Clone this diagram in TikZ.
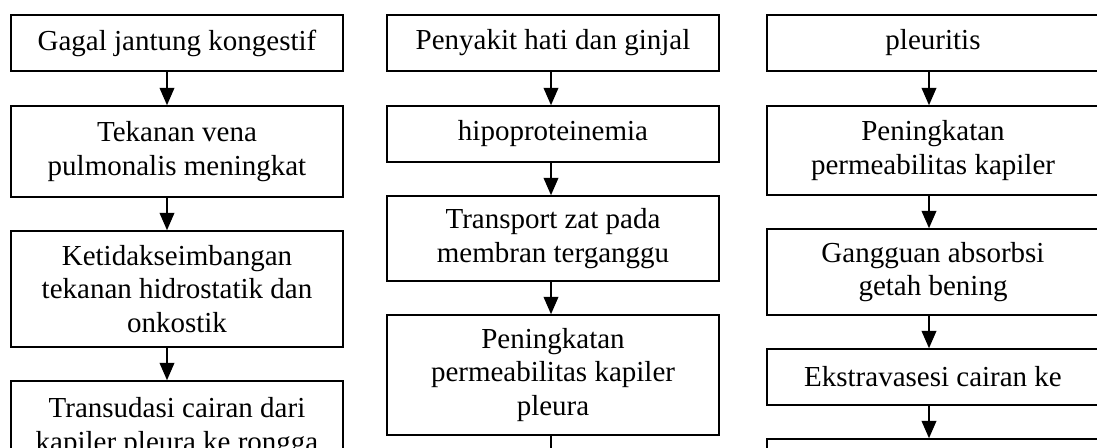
\documentclass[tikz,border=0pt]{standalone}
\usepackage{fontspec}
\setmainfont{Liberation Serif}
\usetikzlibrary{arrows.meta}
\begin{document}
\begin{tikzpicture}[x=0.75pt,y=-0.75pt,
  box/.style={draw=black, line width=1.2pt, fill=white, minimum width={332.5*0.75pt},
    align=center, inner sep=0pt, font=\fontsize{21.75pt}{25pt}\selectfont},
  arr/.style={line width=1.2pt, -{Triangle[length=13pt,width=11pt]}}]
\fill[white] (0,0) rectangle (1097,447);
\useasboundingbox (0,0) rectangle (1097,447);
% column 1
\node[box, minimum height={56*0.75pt}]  (a1) at (177,43)    {Gagal jantung kongestif};
\node[box, minimum height={91*0.75pt}]  (a2) at (177,151.5) {Tekanan vena\\pulmonalis meningkat};
\node[box, minimum height={116*0.75pt}] (a3) at (177,289)   {Ketidakseimbangan\\tekanan hidrostatik dan\\onkostik};
\node[box, minimum height={93*0.75pt}]  (a4) at (177,427.5) {Transudasi cairan dari\\kapiler pleura ke rongga};
% column 2
\node[box, minimum height={56*0.75pt}]  (b1) at (553,43)    {Penyakit hati dan ginjal};
\node[box, minimum height={56*0.75pt}]  (b2) at (553,134)   {hipoproteinemia};
\node[box, minimum height={85*0.75pt}]  (b3) at (553,238.5) {Transport zat pada\\membran terganggu};
\node[box, minimum height={120*0.75pt}] (b4) at (553,375)   {Peningkatan\\permeabilitas kapiler\\pleura};
\coordinate (b5) at (551,485);
% column 3
\node[box, minimum height={56*0.75pt}]  (c1) at (933,43)    {pleuritis};
\node[box, minimum height={89*0.75pt}]  (c2) at (933,150.5) {Peningkatan\\permeabilitas kapiler};
\node[box, minimum height={86*0.75pt}]  (c3) at (933,272)   {Gangguan absorbsi\\getah bening};
\node[box, minimum height={56*0.75pt}]  (c4) at (933,377)   {Ekstravasesi cairan ke};
\node[box, minimum height={56*0.75pt}]  (c5) at (933,467)   {};
% arrows
\draw[arr] ([xshift=-7.5pt]a1.south) -- ([xshift=-7.5pt]a2.north);
\draw[arr] ([xshift=-7.5pt]a2.south) -- ([xshift=-7.5pt]a3.north);
\draw[arr] ([xshift=-7.5pt]a3.south) -- ([xshift=-7.5pt]a4.north);
\draw[arr] ([xshift=-1.5pt]b1.south) -- ([xshift=-1.5pt]b2.north);
\draw[arr] ([xshift=-1.5pt]b2.south) -- ([xshift=-1.5pt]b3.north);
\draw[arr] ([xshift=-1.5pt]b3.south) -- ([xshift=-1.5pt]b4.north);
\draw[arr] ([xshift=-1.5pt]b4.south) -- (b5);
\draw[arr] ([xshift=-3pt]c1.south) -- ([xshift=-3pt]c2.north);
\draw[arr] ([xshift=-3pt]c2.south) -- ([xshift=-3pt]c3.north);
\draw[arr] ([xshift=-3pt]c3.south) -- ([xshift=-3pt]c4.north);
\draw[arr] ([xshift=-3pt]c4.south) -- ([xshift=-3pt]c5.north);
\end{tikzpicture}
\end{document}
